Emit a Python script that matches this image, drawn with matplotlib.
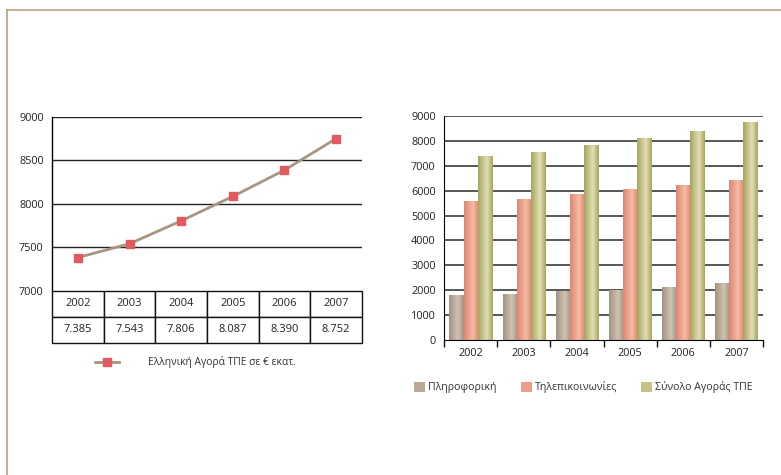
import numpy as np
import matplotlib.pyplot as plt
from matplotlib.lines import Line2D
from matplotlib.colors import LinearSegmentedColormap

plt.rcParams['font.family'] = ['Open Sans', 'DejaVu Sans']

# Δεδομένα
years = ['2002', '2003', '2004', '2005', '2006', '2007']
market_total = [7385, 7543, 7806, 8087, 8390, 8752]
informatics = [1800, 1840, 1930, 2000, 2120, 2280]
telecom = [5580, 5660, 5860, 6060, 6220, 6420]

line_label = 'Ελληνική Αγορά ΤΠΕ σε € εκατ.'
bar_labels = ['Πληροφορική', 'Τηλεπικοινωνίες', 'Σύνολο Αγοράς ΤΠΕ']

W, H = 781, 475
fig = plt.figure(figsize=(W / 100, H / 100), dpi=100)


def box(x0, y0, x1, y1):
    # pixel coords (top-left origin) -> figure fraction
    return [x0 / W, 1 - y1 / H, (x1 - x0) / W, (y1 - y0) / H]


# Πλαίσιο σελίδας
frame_col = '#bb9f85'
fig.add_artist(Line2D([7 / W, 1], [1 - 10 / H] * 2, color=frame_col, lw=1.2))
fig.add_artist(Line2D([7 / W] * 2, [0, 1 - 10 / H], color=frame_col, lw=1.2))

# ---------- Αριστερό γράφημα: γραμμή + πίνακας ----------
ax1 = fig.add_axes(box(52, 117, 362, 291))
x = np.arange(len(years))
ax1.plot(x, market_total, color='#a8957f', lw=2, zorder=3)
ax1.plot(x, market_total, ls='none', marker='s', ms=5.5,
         color='#e05a5f', zorder=4)
ax1.set_xlim(-0.5, len(years) - 0.5)
ax1.set_ylim(7000, 9000)
ax1.set_yticks([7000, 7500, 8000, 8500, 9000])
for v in [7500, 8000, 8500, 9000]:
    ax1.axhline(v, color='#222222', lw=1, zorder=1)
for s in ['top', 'right', 'bottom']:
    ax1.spines[s].set_visible(False)
ax1.spines['left'].set_linewidth(1)
ax1.set_xticks([])
ax1.tick_params(axis='y', length=0, pad=6, labelsize=7.8, colors='#222222')

values_txt = [f'{v:,}'.replace(',', '.') for v in market_total]
th = 52 / 174
tbl = ax1.table(cellText=[years, values_txt], cellLoc='center',
                bbox=[0, -th, 1, th])
tbl.auto_set_font_size(False)
tbl.set_fontsize(8)
for cell in tbl.get_celld().values():
    cell.set_edgecolor('#111111')
    cell.set_linewidth(1)
    cell.get_text().set_color('#222222')

# υπόμνημα αριστερά
yl = 1 - 362 / H
fig.add_artist(Line2D([95 / W, 119 / W], [yl, yl], color='#a8957f', lw=2))
fig.add_artist(Line2D([107 / W], [yl], marker='s', ms=5.5, color='#e05a5f', ls='none'))
fig.text(148 / W, yl, line_label, fontsize=7.4, va='center', color='#333333')

# ---------- Δεξί γράφημα: ομαδοποιημένες στήλες ----------
ax2 = fig.add_axes(box(444, 116, 763, 340))
for v in range(1000, 9001, 1000):
    ax2.axhline(v, color='#4a4a4a', lw=1.3, zorder=1)

series = [informatics, telecom, market_total]
grads = [
    ('#a39280', '#cfc2b2'),
    ('#de8670', '#f5bba5'),
    ('#a6a55e', '#e2ddb4'),
]
legend_cols = ['#b9a996', '#eba08a', '#c4c287']
bw = 0.265
grad = np.concatenate([np.linspace(0, 1, 30), np.linspace(1, 0, 20)])[None, :]
for k, (vals, (dark, light)) in enumerate(zip(series, grads)):
    cmap = LinearSegmentedColormap.from_list(f'g{k}', [dark, light])
    for i, v in enumerate(vals):
        x0 = i + (k - 1) * bw - bw / 2
        ax2.imshow(grad, cmap=cmap, aspect='auto', extent=(x0, x0 + bw, 0, v),
                   zorder=2, interpolation='bilinear')
ax2.set_xlim(-0.5, len(years) - 0.5)
ax2.set_ylim(0, 9000)
ax2.set_yticks(range(0, 9001, 1000))

for s in ['top', 'right']:
    ax2.spines[s].set_visible(False)
ax2.set_xticks(x)
ax2.set_xticklabels(years)
ax2.set_xticks(np.arange(-0.5, len(years)), minor=True)
ax2.tick_params(axis='x', which='major', length=0, pad=6, labelsize=7.8, colors='#222222')
ax2.tick_params(axis='x', which='minor', length=5, width=1, direction='out', color='#111111')
ax2.tick_params(axis='y', length=0, pad=6, labelsize=7.8, colors='#222222')

yl2 = 1 - 387 / H
for c, lab, px in zip(legend_cols, bar_labels, [414, 521, 641]):
    fig.add_artist(plt.Rectangle((px / W, yl2 - 4.5 / H), 11 / W, 10 / H,
                                 facecolor=c, edgecolor='none'))
    fig.text((px + 14) / W, yl2, lab, fontsize=7.6, va='center', color='#333333')

fig.savefig('out.png', dpi=100)
